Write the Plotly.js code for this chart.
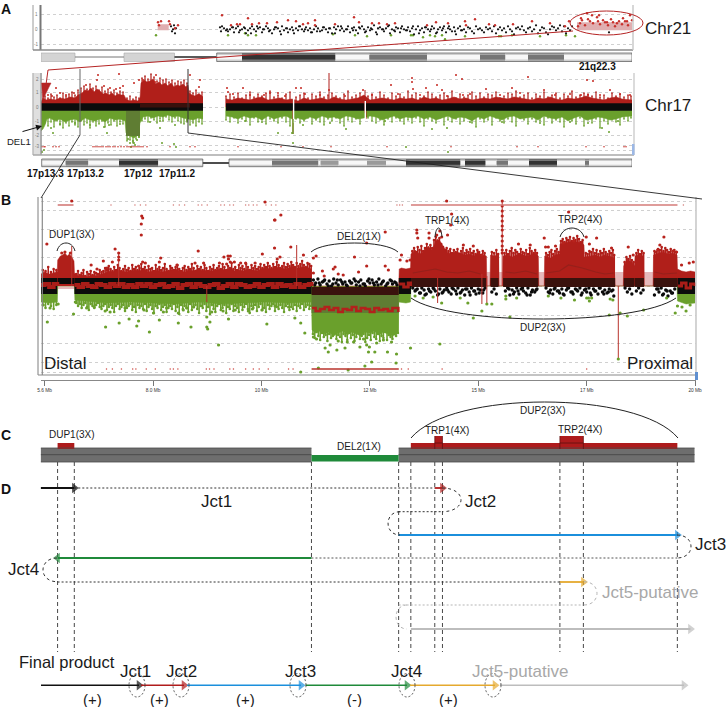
<!DOCTYPE html>
<html><head><meta charset="utf-8">
<script src="https://cdn.plot.ly/plotly-3.0.1.min.js"></script>
<style>html,body{margin:0;padding:0;background:#fff}#g{width:726px;height:707px}</style>
</head><body><div id="g"></div>
<script>
// ---------- Panel A, Chr21 (position along the ideogram, ratio offset) ----------
const chr21BlackX=[220,222,224,226,228,230,232,234,236,238,240,242,244,246,248,250,252,254,256,258,260,262,264,266,268,270,272,274,276,278,280,282,284,286,288,290,292,294,296,298,300,302,304,306,308,310,312,314,316,318,320,322,324,326,328,330,332,334,336,338,340,342,344,346,348,350,352,354,356,358,360,362,364,366,368,370,372,374,376,378,380,382,384,386,388,390,392,394,396,398,400,402,404,406,408,410,412,414,416,418,420,422,424,426,428,430,432,434,436,438,440,442,444,446,448,450,452,454,456,458,460,462,464,466,468,470,472,474,476,478,480,482,484,486,488,490,492,494,496,498,500,502,504,506,508,510,512,514,516,518,520,522,524,526,528,530,532,534,536,538,540,542,544,546,548,550,552,554,556,558,560,562,564,566,568,570,572,221,227,233,239,245,251,257,263,269,275,281,287,293,299,305,311,317,323,329,335,341,347,353,359,365,371,377,383,389,395,401,407,413,419,425,431,437,443,449,455,461,467,473,479,485,491,497,503,509,515,521,527,533,539,545,551,557,563,569];
const chr21BlackY=[2,3,1,-1,-2,0,2,-3,1,3,-1,0,2,-4,-1,1,3,0,-2,1,2,-3,0,3,1,-1,-4,0,2,1,-2,3,-1,1,-3,0,2,-4,1,-1,3,0,-2,2,-1,1,-3,0,3,1,-2,-1,2,0,-3,1,-4,2,0,3,-1,1,-2,0,3,-3,1,2,-1,-4,1,3,0,-2,2,-1,0,4,-3,1,2,0,-2,1,3,-4,0,-1,2,1,-3,3,0,-1,2,-2,1,-5,0,3,-1,1,-3,2,0,-2,3,1,-4,0,2,-1,3,-3,1,0,-2,2,-5,1,3,-1,0,-3,2,1,-2,-4,3,0,1,-1,-3,2,0,1,-2,3,-4,0,2,-1,1,-3,3,0,-2,-5,1,2,0,3,-1,-3,1,2,-2,0,4,-4,-1,2,1,-3,-5,0,3,2,-1,1,4,-2,3,-4,1,-1,3,-2,0,2,-3,1,-4,3,0,-2,2,-5,1,-1,3,0,-3,-2,2,1,-4,3,0,-1,2,-3,1,-5,0,4,-2,1,-1,3,-4,2,0,-3,1,3,-2,-1];
const chr21RedX=[222,248,231,237,240,252,259,267,277,288,296,303,308,315,315,335,354,359,372,379,387,395,427,436,448,465,466,475,489,495,513,532,550,569,565,587,592,582,588,597,603,607,611,617,623,630,632,627,585,593,600,608,615,622,628,580,578,590,598,605,613,619,625,581,599,158,161,169,170,175,178,159];
const chr21RedY=[14,11,4,5,5,5,6,6,7,9,8,5,6,9,4,5,12,7,6,6,5,6,4,7,6,8,4,10,5,4,5,8,6,8,3,16,14,9,10,12,9,7,10,6,11,14,9,8,4,6,5,4,3,5,4,6,3,8,8,7,7,8,8,11,14,7,8,8,5,1,4,4];
const chr21GreenX=[156,228,245,248,256,333,355,367,391,411,413,423,430,435,442,445,465,499,501,512,540,566,575];
const chr21GreenY=[-6,-6,-4,-6,-6,-5,-6,-7,-6,-6,-6,-8,-6,-7,-6,-10,-7,-7,-7,-6,-7,-6,-7];
const chr21ExtraBlackX=[171,173,174,172,176,175,609];
const chr21ExtraBlackY=[3,0,4,-2,1,-4,-3];
const chr21BandStart=[216.7,242,335.6,369.4,427,480,505.5,528,564];
const chr21BandEnd=[242,335.6,369.4,427,480,505.5,528,564,632];
const chr21BandStain=['w','d','w','g','w','g','w','g','w'];
const chr21Hatched=[[41,75],[124,174.5]];
// ---------- Panel A, Chr17 ----------
const chr17TopX=[41,43,46,50,55,60,65,70,75,78,82,85,88,91,94,97,100,103,106,109,112,115,118,121,124,126,130,134,138,140,141,144,147,150,153,156,159,162,165,168,171,174,177,180,183,186,188,189,192,195,198,201,203];
const chr17TopY=[5,9,7,8,7,9,8,10,9,12,14,17,16,19,15,18,16,13,14,12,14,11,13,12,12,8,6,7,6,9,24,27,25,26,28,23,25,22,24,21,24,20,22,21,23,20,22,14,12,11,13,12,10];
const chr17BotX=[41,43,45,47,50,55,60,65,70,75,80,85,90,95,100,105,110,115,120,125,126,130,134,138,140,143,148,153,158,163,168,173,178,183,188,193,198,203];
const chr17BotY=[-24,-22,-18,-12,-11,-14,-12,-15,-13,-12,-15,-11,-13,-14,-12,-15,-11,-13,-12,-14,-26,-29,-31,-28,-16,-10,-9,-11,-9,-10,-8,-10,-9,-11,-12,-13,-11,-12];
const chr17RightX=[226,232,238,244,250,256,262,268,274,280,286,292,298,304,310,316,322,328,334,340,346,352,358,364,370,376,382,388,394,400,406,412,418,424,430,436,442,448,454,460,466,472,478,484,490,496,502,508,514,520,526,532,538,544,550,556,562,568,574,580,586,592,598,604,610,616,622,632];
const chr17RightTop=[8,7,9,8,7,9,10,7,8,9,7,8,6,9,7,8,9,7,10,8,7,8,9,12,7,8,9,8,7,9,8,9,7,10,8,9,7,8,10,8,9,7,8,9,8,10,9,8,10,9,8,7,9,8,10,8,7,9,8,9,11,9,8,7,9,10,8,7];
const chr17RightBot=[-9,-10,-12,-9,-11,-10,-13,-9,-12,-10,-9,-12,-11,-13,-10,-12,-9,-11,-10,-12,-9,-10,-12,-11,-9,-10,-13,-11,-9,-12,-10,-11,-9,-12,-10,-13,-11,-9,-12,-10,-11,-14,-10,-12,-9,-11,-13,-10,-9,-12,-11,-10,-13,-9,-11,-12,-10,-14,-11,-9,-13,-12,-10,-11,-13,-12,-10,-9];
const chr17FringeX=[226,230,234,238,242,246,250,254,258,262,266,270,274,278,282,286,290,296,300,304,308,312,316,320,324,328,332,336,340,344,348,352,356,360,368,372,376,380,384,388,392,396,400,404,408,412,416,420,424,428,432,436,440,444,448,452,456,460,464,468,472,476,480,484,488,492,496,500,504,508,512,516,520,524,528,532,536,540,544,548,552,556,560,564,568,572,576,580,584,588,592,596,600,604,608,612,616,620,624,628,631];
const chr17FringeTop=[11,13,10,14,9,12,15,10,13,11,14,16,10,12,9,13,15,10,12,14,9,13,11,15,10,12,14,11,9,13,16,10,12,14,11,13,10,15,12,9,14,11,13,10,16,12,14,9,11,15,13,10,12,14,11,16,9,13,10,12,15,11,14,10,13,12,15,9,11,14,13,16,10,12,14,9,13,11,15,10,12,14,9,13,11,16,10,12,14,13,11,15,10,12,9,14,11,13,10,12,11];
const chr17FringeBot=[-13,-15,-11,-16,-12,-14,-18,-11,-15,-13,-17,-12,-14,-16,-11,-15,-19,-12,-16,-14,-11,-17,-13,-15,-18,-12,-14,-11,-16,-19,-13,-15,-12,-17,-11,-14,-16,-13,-18,-12,-15,-11,-14,-17,-13,-16,-11,-15,-19,-12,-14,-16,-11,-18,-13,-15,-12,-17,-14,-11,-16,-20,-12,-15,-13,-18,-11,-14,-16,-12,-15,-19,-11,-13,-17,-12,-15,-14,-18,-11,-16,-13,-15,-20,-12,-14,-17,-11,-19,-13,-16,-12,-21,-14,-17,-13,-15,-18,-12,-14,-11];
const chr17LeftFringeX=[45,48,51,54,57,60,63,66,69,72,75,78,81,84,87,90,93,96,99,102,105,108,111,114,117,120,123,127,130,133,136,139,142,145,148,151,154,157,160,163,166,169,172,175,178,181,184,187,190,193,196,199,202];
const chr17LeftFringeTop=[11,9,13,10,12,9,14,11,13,15,12,17,19,21,18,23,19,21,17,20,16,18,15,17,14,16,15,9,11,8,10,9,29,31,28,33,30,26,29,27,28,25,27,24,26,25,27,24,16,14,17,13,15];
const chr17LeftFringeBot=[-16,-19,-15,-20,-14,-18,-21,-16,-19,-15,-18,-20,-14,-18,-16,-21,-15,-19,-17,-14,-20,-16,-18,-14,-19,-15,-17,-34,-33,-36,-32,-30,-14,-12,-15,-11,-13,-16,-12,-14,-10,-13,-15,-11,-14,-16,-17,-15,-18,-16,-19,-15,-17];
const chr17RedX=[98,119,97,86,56,60,120,123,134,139,143,156,155,190,200,199,227,228,243,296,301,264,278,329,363,391,412,412,413,426,456,462,442,437,463,512,528,587,593,581,588,610,630,486,544,48,52,66,74,104,110,116,233,250,270,285,305,320,345,372,398,420,447,470,500,520,555,570,600,620];
const chr17RedY=[32,33,27,22,19,14,19,21,24,27,27,32,25,32,27,20,19,15,19,19,19,12,14,17,17,22,29,25,18,19,32,28,17,22,12,19,30,27,26,12,12,17,12,18,17,12,11,12,14,21,19,18,13,12,14,11,13,12,11,12,13,12,11,13,12,14,12,13,12,13];
const chr17GreenX=[51,53,104,107,109,160,174,160,162,176,187,278,293,303,292,346,432,447,602,609,588,502,406,448,42,44,128,130,133,135,137,139,131,134,60,75,90,120,150,175,245,262,330,385,470,540,570,618];
const chr17GreenY=[-21,-26,-20,-26,-18,-21,-37,-14,-36,-40,-13,-26,-36,-18,-26,-22,-22,-21,-21,-25,-16,-15,-40,-45,-45,-43,-32,-36,-34,-38,-33,-30,-40,-36,-17,-16,-18,-17,-15,-18,-14,-15,-16,-14,-15,-16,-15,-14];
const chr17RugX=[42,44,45,53,56,59,93,95,97,99,101,103,106,108,110,113,115,118,121,124,127,129,131,133,135,137,139,141,143,147,170,190,195,238,281,303,331,387,451,517,538,586,604,624,626];
const chr17BandStart=[41.7,65.7,88.4,119,158.3,229,272,318.5,320.7,338.7,367,386,406,460.6,465,485.7,496.7,508,529,557,585,589];
const chr17BandEnd=[65.7,88.4,119,158.3,202.8,272,318.5,320.7,338.7,367,386,406,460.6,465,485.7,496.7,508,529,557,585,589,632];
const chr17BandStain=['w','g','w','d','w','w','g','w','l','w','l','w','d','w','d','w','g','w','d','w','g','w'];
// ---------- Panel B ----------
const bTickVals=[5.6,8,10.4,12.8,15.2,17.6,20];
const bTickText=['5.6 Mb','8.0 Mb','10 Mb','12 Mb','15 Mb','17 Mb','20 Mb'];
const bGrid=[85,76,57,29,0,-29,-57,-76,-86];
const bRedX=[5.52,5.6,5.7,5.8,5.88,5.89,5.95,6,6.05,6.1,6.15,6.2,6.25,6.26,6.35,6.45,6.55,6.65,6.75,6.85,6.95,7,7.1,7.2,7.3,7.4,7.5,7.6,7.7,7.8,7.9,8,8.1,8.2,8.3,8.4,8.5,8.6,8.7,8.8,8.9,9,9.1,9.2,9.3,9.4,9.5,9.6,9.7,9.8,9.9,10,10.1,10.2,10.3,10.4,10.5,10.6,10.7,10.8,10.9,11,11.1,11.2,11.3,11.4,11.5,11.51,13.44,13.45,13.5,13.6,13.7,13.71,13.75,13.8,13.85,13.9,13.95,14,14.05,14.1,14.15,14.2,14.25,14.3,14.35,14.4,14.45,14.5,14.55,14.6,14.7,14.8,14.9,15,15.1,15.2,15.3,15.38,15.39,15.46,15.47,15.55,15.65,15.66,15.74,15.75,15.85,15.95,16.05,16.15,16.25,16.35,16.45,16.53,16.54,16.66,16.67,16.8,16.9,17,17.01,17.1,17.2,17.3,17.4,17.5,17.54,17.55,17.7,17.8,17.9,18,18.1,18.2,18.23,18.41,18.42,18.5,18.6,18.66,18.67,18.75,18.85,18.87,19.07,19.08,19.2,19.3,19.4,19.5,19.6,19.61,19.7,19.8,19.9,20];
const bRedTop=[12,14,12,13,14,26,30,31,33,30,32,29,25,13,10,11,9,11,10,12,13,15,14,16,15,14,15,16,15,17,14,15,16,14,15,16,17,15,14,16,15,17,15,16,15,16,17,16,18,15,16,15,17,16,15,17,18,17,18,19,17,18,20,18,19,19,17,0,0,17,18,17,18,32,33,36,34,32,33,35,37,40,36,38,44,47,45,42,38,34,33,32,34,33,31,32,30,33,31,30,0,0,31,30,31,0,0,30,31,29,31,32,30,31,33,30,0,0,30,28,31,32,42,43,44,45,44,43,41,29,30,31,29,31,30,28,0,0,20,26,24,20,30,31,30,0,0,31,33,34,32,33,31,17,15,14,15,14];
const bGreenX=[5.52,5.7,5.88,5.89,6.26,6.27,6.5,7,7.5,8,8.5,9,9.5,10,10.5,11,11.51,11.52,11.6,11.7,11.8,11.9,12,12.1,12.2,12.3,12.4,12.5,12.6,12.7,12.8,12.9,13,13.1,13.2,13.3,13.43,13.44,13.6,13.7,13.71,19.6,19.61,19.8,20];
const bGreenBot=[-16,-17,-16,0,0,-14,-15,-17,-16,-17,-18,-16,-18,-17,-16,-17,-16,-44,-47,-45,-48,-46,-50,-47,-45,-49,-46,-48,-50,-46,-47,-45,-49,-46,-48,-50,-47,-16,-17,-16,0,0,-15,-18,-17];
const bFringeX=[5.56,5.62,5.68,5.74,5.8,5.86,6.3,6.34,6.38,6.42,6.46,6.5,6.54,6.58,6.62,6.66,6.7,6.74,6.78,6.82,6.86,6.9,6.94,6.98,7.02,7.06,7.1,7.14,7.18,7.22,7.26,7.3,7.34,7.38,7.42,7.46,7.5,7.54,7.58,7.62,7.66,7.7,7.74,7.78,7.82,7.86,7.9,7.94,7.98,8.02,8.06,8.1,8.14,8.18,8.22,8.26,8.3,8.34,8.38,8.42,8.46,8.5,8.54,8.58,8.62,8.66,8.7,8.74,8.78,8.82,8.86,8.9,8.94,8.98,9.02,9.06,9.1,9.14,9.18,9.22,9.26,9.3,9.34,9.38,9.42,9.46,9.5,9.54,9.58,9.62,9.66,9.7,9.74,9.78,9.82,9.86,9.9,9.94,9.98,10.02,10.06,10.1,10.14,10.18,10.22,10.26,10.3,10.34,10.38,10.42,10.46,10.5,10.54,10.58,10.62,10.66,10.7,10.74,10.78,10.82,10.86,10.9,10.94,10.98,11.02,11.06,11.1,11.14,11.18,11.22,11.26,11.3,11.34,11.38,11.42,11.46,11.5];
const bFringeTop=[16,15,19,14,17,16,12,15,11,13,16,10,14,12,15,11,14,13,12,16,14,15,18,16,20,17,15,19,16,21,18,15,17,20,16,18,15,21,17,19,16,18,22,17,19,16,20,17,18,15,21,17,19,16,18,22,17,15,20,18,16,19,21,17,15,18,20,16,19,17,22,18,15,20,17,19,16,21,18,15,19,17,21,16,18,20,17,22,19,16,20,18,23,17,19,16,21,18,20,17,22,19,16,21,18,20,17,19,22,18,21,19,23,20,18,22,19,24,21,18,20,23,19,22,20,24,21,19,23,20,22,25,21,19,23,22,20,18,21,19,17];
const bFringeBot=[-19,-22,-18,-20,-23,-19,-17,-20,-18,-22,-19,-17,-21,-24,-18,-20,-22,-19,-17,-21,-23,-20,-18,-24,-21,-19,-22,-26,-20,-18,-23,-21,-19,-25,-22,-20,-18,-24,-21,-26,-19,-22,-20,-23,-18,-25,-21,-19,-23,-27,-20,-22,-18,-24,-21,-19,-26,-22,-20,-23,-18,-25,-21,-28,-19,-23,-20,-22,-26,-18,-24,-21,-19,-23,-27,-20,-22,-18,-25,-21,-28,-19,-23,-26,-20,-18,-24,-22,-19,-27,-21,-23,-18,-25,-20,-22,-26,-19,-24,-21,-18,-23,-27,-20,-22,-19,-25,-21,-18,-24,-22,-26,-19,-23,-20,-18,-25,-21,-23,-19,-22,-26,-20,-18,-24,-21,-23,-19,-25,-20,-22,-18,-24,-21,-19,-23,-20,-22,-25,-19,-21];
const bDelFringeX=[11.54,11.58,11.62,11.66,11.7,11.74,11.78,11.82,11.86,11.9,11.94,11.98,12.02,12.06,12.1,12.14,12.18,12.22,12.26,12.3,12.34,12.38,12.42,12.46,12.5,12.54,12.58,12.62,12.66,12.7,12.74,12.78,12.82,12.86,12.9,12.94,12.98,13.02,13.06,13.1,13.14,13.18,13.22,13.26,13.3,13.34,13.38,13.42];
const bDelFringeBot=[-48,-52,-46,-50,-54,-47,-51,-49,-55,-48,-52,-50,-46,-53,-49,-51,-56,-48,-50,-54,-47,-52,-49,-55,-51,-47,-53,-50,-48,-56,-52,-49,-54,-47,-51,-53,-48,-55,-50,-52,-46,-54,-49,-51,-53,-48,-50,-47];
const bDupFringeX=[13.74,13.78,13.82,13.86,13.9,13.94,13.98,14.02,14.06,14.1,14.14,14.18,14.22,14.26,14.3,14.34,14.38,14.42,14.46,14.5,14.54,14.58,14.62,14.66,14.7,14.74,14.78,14.82,14.86,14.9,14.94,14.98,15.02,15.06,15.1,15.14,15.18,15.22,15.26,15.3,15.34,15.5,15.55,15.6,15.64,15.78,15.82,15.86,15.9,15.94,15.98,16.02,16.06,16.1,16.14,16.18,16.22,16.26,16.3,16.34,16.38,16.42,16.46,16.5,16.7,16.74,16.78,16.82,16.86,16.9,16.94,16.98,17.03,17.07,17.11,17.15,17.19,17.23,17.27,17.31,17.35,17.39,17.43,17.47,17.51,17.58,17.62,17.66,17.7,17.74,17.78,17.82,17.86,17.9,17.94,17.98,18.02,18.06,18.1,18.14,18.18,18.21,18.44,18.48,18.52,18.56,18.6,18.64,18.7,18.74,18.78,18.82,18.86,19.1,19.14,19.18,19.22,19.26,19.3,19.34,19.38,19.42,19.46,19.5,19.54,19.58];
const bDupFringeTop=[35,38,34,39,36,40,35,38,42,37,41,38,46,49,44,48,42,39,36,38,35,37,33,36,34,37,32,35,38,33,36,34,37,33,35,32,36,34,31,35,33,34,33,36,32,33,36,32,35,38,33,36,34,32,37,34,33,36,32,38,35,33,36,33,33,31,34,36,32,35,37,34,45,47,44,48,46,49,45,48,46,50,47,44,46,33,32,35,34,37,33,36,32,35,33,37,34,32,35,33,36,31,24,29,27,30,26,24,33,36,32,35,33,35,34,37,36,39,35,38,36,34,37,35,36,34];
const bBlackStart=[5.52,6.26,13.44,19.61];
const bBlackEnd=[5.88,11.51,13.71,20];
const bBlackTop=[8,8,8,8];
const bBlackBot=[-8,-8,-8,-8];
const bDup1Start=[5.89],bDup1End=[6.26],bDup1Top=[8],bDup1Bot=[2];
const bBrownStart=[11.51,13.71,15.47,15.75,16.67,18.42,18.67,19.08];
const bBrownEnd=[13.44,15.38,15.65,16.53,18.23,18.66,18.87,19.6];
const bBrownTop=[-1,8,8,8,8,8,8,8];
const bBrownBot=[-9,-1,-1,-1,-1,-1,-1,-1];
const bOliveStart=[11.51],bOliveEnd=[13.44],bOliveTop=[-9],bOliveBot=[-27];
const bPinkStart=[5.89,15.38,15.65,16.53,18.23,18.87],bPinkEnd=[6.26,15.47,15.75,16.67,18.42,19.07],bPinkTop=[2,14,14,14,14,14],bPinkBot=[-3,0,0,0,0,0];
const bEdgeBlackX=[11.55,11.6,11.65,11.7,11.75,11.8,11.85,11.9,11.95,12,12.05,12.1,12.15,12.2,12.25,12.3,12.35,12.4,12.45,12.5,12.55,12.6,12.65,12.7,12.75,12.8,12.85,12.9,12.95,13,13.05,13.1,13.15,13.2,13.25,13.3,13.35,13.4,11.58,11.68,11.78,11.88,11.98,12.08,12.18,12.28,12.38,12.48,12.58,12.68,12.78,12.88,12.98,13.08,13.18,13.28,13.38,13.75,13.8,13.85,13.9,13.95,14,14.05,14.1,14.15,14.2,14.25,14.3,14.35,14.4,14.45,14.5,14.55,14.6,14.65,14.7,14.75,14.8,14.85,14.9,14.95,15,15.05,15.1,15.15,15.2,15.25,15.3,15.35,15.5,15.55,15.6,15.8,15.85,15.9,15.95,16,16.05,16.1,16.15,16.2,16.25,16.3,16.35,16.4,16.45,16.5,16.7,16.75,16.8,16.85,16.9,16.95,17,17.05,17.1,17.15,17.2,17.25,17.3,17.35,17.4,17.45,17.5,17.55,17.6,17.65,17.7,17.75,17.8,17.85,17.9,17.95,18,18.05,18.1,18.15,18.2,18.45,18.5,18.55,18.6,18.7,18.75,18.8,18.85,19.1,19.15,19.2,19.25,19.3,19.35,19.4,19.45,19.5,19.55,13.82,13.92,14.02,14.12,14.22,14.32,14.42,14.52,14.62,14.72,14.82,14.92,15.02,15.12,15.22,15.32,15.88,15.98,16.08,16.18,16.28,16.38,16.48,16.78,16.88,16.98,17.08,17.18,17.28,17.38,17.48,17.58,17.68,17.78,17.88,17.98,18.08,18.18,19.18,19.28,19.38,19.48];
const bEdgeBlackY=[6,3,7,1,4,6,2,5,0,7,3,1,6,2,4,0,5,3,7,1,4,6,2,0,5,3,6,1,4,7,2,5,0,3,6,2,4,1,1,3,5,0,2,6,4,1,3,5,0,2,7,3,1,4,2,5,3,-2,-5,-3,-7,-2,-4,-8,-3,-6,-2,-5,-9,-3,-7,-4,-2,-6,-8,-3,-5,-2,-7,-4,-9,-3,-6,-2,-5,-8,-3,-4,-7,-2,-6,-3,-8,-5,-2,-9,-4,-6,-2,-8,-3,-5,-7,-2,-9,-4,-6,-3,-2,-6,-4,-8,-2,-5,-7,-3,-9,-4,-2,-6,-8,-3,-5,-2,-7,-4,-6,-2,-9,-3,-5,-8,-2,-6,-4,-7,-3,-5,-10,-2,-6,-3,-8,-5,-2,-7,-4,-9,-3,-6,-2,-8,-4,-10,-5,-7,-3,-4,-7,-9,-5,-3,-8,-6,-4,-2,-8,-6,-3,-9,-5,-7,-4,-3,-8,-5,-2,-9,-6,-4,-7,-3,-5,-8,-2,-6,-4,-9,-3,-7,-5,-2,-8,-6,-4,-3,-9,-5,-7,-3,-6,-4];
const bCenterX=[5.52,5.6,5.7,5.8,5.88,null,6.26,6.35,6.45,6.55,6.65,6.75,6.85,6.95,7.05,7.15,7.25,7.35,7.45,7.55,7.65,7.75,7.85,7.95,8.05,8.15,8.25,8.35,8.45,8.55,8.65,8.75,8.85,8.95,9.05,9.15,9.25,9.35,9.45,9.55,9.65,9.75,9.85,9.95,10.05,10.15,10.25,10.35,10.45,10.55,10.65,10.75,10.85,10.95,11.05,11.15,11.25,11.35,11.45,11.51];
const bCenterY=[1,2,-1,2,0,null,1,-1,2,0,-1,2,1,-1,2,0,2,-1,1,-1,2,0,2,-1,1,2,-1,0,2,-2,1,2,-1,2,0,-1,1,2,-2,0,2,-1,2,1,-1,0,2,-1,1,2,-1,2,0,1,-1,2,-1,1,2,0];
const bDelX=[11.52,11.6,11.7,11.8,11.9,12,12.1,12.2,12.3,12.4,12.5,12.6,12.7,12.8,12.9,13,13.1,13.2,13.3,13.43];
const bDelY=[-22,-25,-23,-21,-24,-22,-26,-23,-24,-21,-25,-22,-23,-26,-22,-24,-23,-25,-22,-26];
const bRightX=[13.45,13.55,13.65,13.7,null,19.62,19.7,19.8,19.9,20];
const bRightY=[2,-1,3,0,null,0,3,-2,2,0];
const bDupLineX=[13.75,14,14.25,14.5,14.75,15,15.25,null,15.8,16,16.25,16.5,null,16.7,17,17.2,17.5,17.8,18,18.2,null,18.7,null,19.1,19.3,19.6];
const bDupLineY=[13,15,17,14,13,15,12,null,14,13,15,12,null,13,15,21,18,14,12,13,null,14,null,14,12,13];
const bSpikeX=[6.2,7.24,9.19,11.18,14.3,15.28,15.39,15.73,18.3];
const bSpikeHigh=[40,33,0,41,8,12,10,85,0];
const bSpikeLow=[0,0,-16,0,-17,-18,-18,0,-73];
const bRedDotX=[6.2,5.65,7.75,7.77,7.74,7.74,7.16,7.24,7.24,7.24,6.9,7.1,6.98,6.63,6.76,8.17,8.14,7.77,7.83,7.68,9,8.93,8.53,9.12,9.57,9.66,9.71,9.67,9.71,9.63,9.8,9.47,10.42,10.69,10.69,10.48,9.94,10.05,10.26,6.05,5.98,6.17,10.83,10.7,11.05,10.81,10.75,11.33,11.61,11.55,12.46,12.73,13.14,12.03,11.99,12.21,12.1,11.75,11.55,12.55,12.73,13.14,13.21,11.79,13.5,13.47,13.62,13.69,13.84,13.84,13.86,14.11,14.11,14.28,14.35,14.61,14.5,14.59,14.39,14.52,14.87,15.09,15.28,15.73,15.73,15.73,15.73,15.73,15.73,15.73,15.73,15.73,15.73,15.73,15.73,16.09,16.35,16.47,16.66,16.69,16.75,16.91,17.2,17.31,17.08,17.59,17.82,17.66,18.15,18.52,18.63,19.22,19.31,19.17,19.52,19.59,19.96,19.87,19.7];
const bRedDotY=[85,42,70,68,62,51,37,33,29,26,25,24,18,21,17,28,24,24,23,20,35,23,21,23,29,30,30,27,24,22,24,23,32,38,66,84,23,23,23,34,33,33,71,66,39,29,27,31,30,28,29,43,54,19,17,11,12,15,13,14,20,20,16,10,31,26,25,26,56,53,48,53,48,51,55,72,85,61,49,51,41,40,31,85,80,75,70,65,60,56,50,45,40,36,33,42,41,33,48,39,39,40,74,45,43,49,48,42,38,39,31,41,49,36,35,34,24,23,21];
const bGreenDotX=[5.66,6.95,7.25,7.47,7.68,7.64,7.92,9.45,8.84,8.56,9.19,9.21,9.26,8.14,6.24,10.52,9.67,5.57,5.72,5.9,6.28,6.53,6.94,7.05,7.38,8.01,8.23,8.56,8.67,9.19,9.3,9.82,10.11,10.41,11.55,11.62,11.92,11.81,11.88,12.1,12.3,12.66,12.73,12.77,12.79,12.91,12.84,12.69,13.19,13.39,13.38,12.32,11.66,11.27,11.36,11.27,11.14,13.7,14.35,12.25,12.44,13.1,13.28,12.95,12.07,12.58,14.2,13.8,13.98,14.39,14.8,14.97,15.28,15.09,15.39,15.5,15.9,15.81,15.81,16.05,16.75,17.03,17.33,17.64,17.71,17.6,17.66,18.12,18.18,18.1,18.34,18.5,18.86,18.3,19.37,19.56,19.61,19.8,19.71,19.89,8.3,8.9,10.7,11,6.7,7.8,8.75,9.55,10.2];
const bGreenDotY=[-36,-41,-37,-33,-35,-40,-46,-59,-41,-37,-41,-43,-36,-34,-28,-38,-33,-19,-22,-18,-16,-22,-25,-26,-22,-27,-26,-27,-24,-31,-26,-24,-25,-24,-51,-53,-59,-62,-66,-55,-56,-53,-59,-66,-61,-66,-76,-80,-66,-68,-77,-84,-82,-86,-47,-37,-32,-62,-58,-62,-56,-54,-56,-57,-64,-61,-11,-10,-12,-17,-12,-17,-25,-32,-18,-18,-31,-10,-13,-12,-10,-12,-14,-12,-12,-12,-15,-13,-14,-29,-27,-30,-24,-73,-12,-27,-20,-25,-21,-19,-22,-21,-20,-21,-21,-24,-22,-25,-23];
const bTopRugStart=[5.89,13.71],bTopRugEnd=[6.24,19.61];
const bTopRugDots=[7.07,7.6,7.72,7.84,8.45,8.58,8.7,9,9.08,9.2,9.5,9.58,9.7,9.78,10.05,10.12,10.22,10.3,10.5,10.62,10.72,13.4,13.46,13.52,19.74];
const bBottomRugDots=[6.97,7.1,7.3,7.55,7.62,7.85,8.05,8.38,8.45,8.55,9.18,9.25,9.35,9.7,9.78,10.05,10.22,10.35,10.55,11,11.1,13.5,13.65,14.4,17.6];
const bBottomRugStart=[11.51],bBottomRugEnd=[13.44];
// ---------- Panels C and D (Mb along the same scale as B) ----------
const breakpoints=[5.89,6.26,11.51,13.44,13.71,14.24,14.41,17.01,17.53,19.61];
const refStart=[5.52,13.44],refEnd=[11.51,19.99];
const delStart=11.51,delEnd=13.44;
const gainStart=[5.89,13.71],gainEnd=[6.26,19.61];
const triStart=[14.24,17.01],triEnd=[14.41,17.53];
const segStart=[5.52,14.24,13.44,11.51,17.01,13.71];
const segEnd=[6.26,14.41,19.61,5.89,17.53,19.9];
const segRow=[488,488,535,558,582,629];
const segColor=['#111111','#b01c1c','#1b8fdc','#1f8a3a','#e5a92e','#bdbdbd'];
const linkStart=[6.26,13.44,11.51,5.89,13.44];
const linkEnd=[14.24,14.41,19.61,17.01,17.53];
const linkRow=[488,511.7,558,582,605];
const linkColor=['#333333','#333333','#555555','#333333','#b5b5b5'];
// Final product (length along the rearranged chromosome)
const productStart=[41,141,187,305.6,410,500];
const productEnd=[139,184,301,407,495,684];
const productColor=['#111111','#b01c1c','#1b8fdc','#1f8a3a','#e5a92e','#bdbdbd'];
const junctionAt=[137,181,298,407,493];
const junctionLabel=['Jct1','Jct2','Jct3','Jct4','Jct5-putative'];
const strandAt=[92,159,245,354,448];
const strandLabel=['(+)','(+)','(+)','(-)','(+)'];

const RED='#b01f1a',GREEN='#6aa02c',GRID='#c4c4c4';
const F='"Liberation Sans",Arial,sans-serif';
const px=v=>v/726, py=v=>1-v/707;
const traces=[],shapes=[],annotations=[];
function dots(x,y,color,size,xa,ya){traces.push({type:'scatter',mode:'markers',x,y,xaxis:xa,yaxis:ya,cliponaxis:false,hoverinfo:'skip',marker:{color,size,line:{width:0}}});}
function area(x,y,color,xa,ya){traces.push({type:'scatter',mode:'lines',x,y,xaxis:xa,yaxis:ya,fill:'tozeroy',fillcolor:color,hoverinfo:'skip',line:{color,width:0.5}});}
function line(x,y,color,width,xa,ya,dash,shape){traces.push({type:'scatter',mode:'lines',x,y,xaxis:xa,yaxis:ya,cliponaxis:false,hoverinfo:'skip',line:{color,width,dash:dash||'solid',shape:shape||'linear'}});}
function hairs(xs,ys,color,width,xa,ya){const x=[],y=[];xs.forEach((v,i)=>{x.push(v,v,null);y.push(0,ys[i],null)});line(x,y,color,width,xa,ya);}
function bands(st,en,top,bot,color,xa,ya){const x=[],y=[];st.forEach((s,i)=>{x.push(s,en[i],en[i],s,s,null);y.push(bot[i],bot[i],top[i],top[i],bot[i],null)});traces.push({type:'scatter',mode:'lines',x,y,xaxis:xa,yaxis:ya,fill:'toself',fillcolor:color,hoverinfo:'skip',line:{width:0,color}});}
function segs(st,en,yv,color,width,xa,ya,dash){const x=[],y=[];st.forEach((s,i)=>{x.push(s,en[i],null);y.push(yv[i],yv[i],null)});line(x,y,color,width,xa,ya,dash);}
function rect(x0,x1,y0,y1,fill,xref,lineColor,w){shapes.push({type:'rect',layer:'above',xref:xref||'x5',yref:'y5',x0,x1,y0,y1,fillcolor:fill,line:{color:lineColor||fill,width:w===undefined?0:w}});}
function seg(x0,y0,x1,y1,color,width,dash,xref){shapes.push({type:'line',layer:'above',xref:xref||'x5',yref:'y5',x0,y0,x1,y1,line:{color,width,dash:dash||'solid'}});}
function path(d,color,width,dash,fill){shapes.push({type:'path',layer:'above',xref:'x5',yref:'y5',path:d,fillcolor:fill||'rgba(0,0,0,0)',line:{color,width,dash:dash||'solid'}});}
function arc(x0,x1,yb,peak,color,w){path(`M${x0},${yb} C${x0+(x1-x0)*0.15},${yb+(peak-yb)*4/3} ${x1-(x1-x0)*0.15},${yb+(peak-yb)*4/3} ${x1},${yb}`,color||'#222',w||1);}
function loop(x,y0,y1,bulge,color){path(`M${x},${y0} C${x+bulge*4/3},${y0} ${x+bulge*4/3},${y1} ${x},${y1}`,color||'#333',1,'dot');}
function label(text,x,y,size,opts){annotations.push(Object.assign({text,x,y,xref:'x5',yref:'y5',showarrow:false,xanchor:'center',yanchor:'middle',font:{family:F,size,color:'#1a1a1a'}},opts||{}));}
function greyLabel(text,x,y,size){annotations.push({text,x,y,xref:'x5',yref:'y5',showarrow:false,xanchor:'center',yanchor:'middle',font:{family:F,size,color:'#a8a8a8'}});}
const STAIN={w:['#cfcfcf','#f7f7f7'],g:['#a6a6a6','#767676'],l:['#bdbdbd','#9a9a9a'],d:['#777777','#333333']};
function ideogram(st,en,stain,xa,top,bot){st.forEach((s,i)=>{const c=STAIN[stain[i]];rect(s,en[i],top,bot,c[0],xa);rect(s,en[i],top+2,bot-2,c[1],xa);});}

// ---- Chr21 ----
bands([157.7,577],[168.7,632],[5,7],[-1,-1],'#e0aeb0','x','y');
dots(chr21GreenX,chr21GreenY,GREEN,2.4,'x','y');
dots(chr21BlackX,chr21BlackY,'#111',2.2,'x','y');
dots(chr21ExtraBlackX,chr21ExtraBlackY,'#111',2.2,'x','y');
dots(chr21RedX,chr21RedY,'#c8302c',2.4,'x','y');
// ---- Chr17 ----
hairs(chr17FringeX,chr17FringeTop,RED,1.2,'x2','y2');
hairs(chr17LeftFringeX,chr17LeftFringeTop,RED,1.2,'x2','y2');
hairs(chr17FringeX,chr17FringeBot,GREEN,1.2,'x2','y2');
hairs(chr17LeftFringeX,chr17LeftFringeBot,GREEN,1.2,'x2','y2');
dots(chr17FringeX,chr17FringeTop,RED,1.6,'x2','y2');
dots(chr17LeftFringeX,chr17LeftFringeTop,RED,1.6,'x2','y2');
dots(chr17FringeX,chr17FringeBot,GREEN,1.6,'x2','y2');
dots(chr17LeftFringeX,chr17LeftFringeBot,GREEN,1.6,'x2','y2');
area(chr17TopX,chr17TopY,RED,'x2','y2');
area(chr17RightX,chr17RightTop,RED,'x2','y2');
area(chr17BotX,chr17BotY,GREEN,'x2','y2');
area(chr17RightX,chr17RightBot,GREEN,'x2','y2');
bands([126],[140],[-4],[-29],'#5f7d33','x2','y2');
bands([41,140,226],[203,190,632],[3.7,3.7,3.7],[-3.7,-3.7,-3.7],'#0c0c0c','x2','y2');
bands([140],[190],[3.7],[-0.5],'#3a100c','x2','y2');
line([293,293,null,365,365,null,329,329,null,366,366],[-27,-3,null,-6,17,null,5,34,null,-4,-12],RED,1,'x2','y2');
line([293.6,293.6,null,365.3,365.3],[12,-16,null,6,-14],'#ffffff',1.4,'x2','y2');
line([293,293],[-27,-12],GREEN,1.4,'x2','y2');
dots(chr17RedX,chr17RedY,'#c4261f',2,'x2','y2');
dots(chr17GreenX,chr17GreenY,GREEN,2,'x2','y2');
dots(chr17RugX,chr17RugX.map(()=>-39.7),'#c4261f',1.5,'x2','y2');
// ---- Panel B ----
bands(bPinkStart,bPinkEnd,bPinkTop,bPinkBot,'#e6b9bb','x3','y3');
hairs(bFringeX,bFringeBot,GREEN,1.6,'x3','y3');
hairs(bDelFringeX,bDelFringeBot,GREEN,1.6,'x3','y3');
hairs(bFringeX,bFringeTop,RED,1.6,'x3','y3');
hairs(bDupFringeX,bDupFringeTop,RED,1.6,'x3','y3');
dots(bFringeX,bFringeBot,GREEN,2.6,'x3','y3');
dots(bDelFringeX,bDelFringeBot,GREEN,2.6,'x3','y3');
dots(bFringeX,bFringeTop,RED,2.6,'x3','y3');
dots(bDupFringeX,bDupFringeTop,RED,2.6,'x3','y3');
area(bGreenX,bGreenBot,GREEN,'x3','y3');
area(bRedX,bRedTop,RED,'x3','y3');
bands(bOliveStart,bOliveEnd,bOliveTop,bOliveBot,'#5f7d33','x3','y3');
bands(bBlackStart,bBlackEnd,bBlackTop,bBlackBot,'#0b0b0b','x3','y3');
bands(bDup1Start,bDup1End,bDup1Top,bDup1Bot,'#0b0b0b','x3','y3');
dots(bEdgeBlackX,bEdgeBlackY,'#0b0b0b',3.4,'x3','y3');
bands(bBrownStart,bBrownEnd,bBrownTop,bBrownBot,'#3a120d','x3','y3');
line(bCenterX,bCenterY,'#a81d18',4,'x3','y3',null,'hv');
line(bDelX,bDelY,'#b3211c',2.6,'x3','y3',null,'hv');
line(bRightX,bRightY,'#a81d18',3,'x3','y3',null,'hv');
line(bDupLineX,bDupLineY,'#96201b',1.2,'x3','y3');
{const x=[],y=[];bSpikeX.forEach((v,i)=>{x.push(v,v,null);y.push(bSpikeLow[i],bSpikeHigh[i],null)});line(x,y,'#b8322c',1,'x3','y3');}
dots(bGreenDotX,bGreenDotY,GREEN,3.2,'x3','y3');
dots(bRedDotX,bRedDotY,'#b8231d',3.2,'x3','y3');
segs(bTopRugStart,bTopRugEnd,[81,81],'#d47b78',1.6,'x3','y3');
segs(bBottomRugStart,bBottomRugEnd,[-83,-83],'#b8332d',1.4,'x3','y3');
dots(bTopRugDots,bTopRugDots.map(()=>81),'#d47b78',1.5,'x3','y3');
dots(bBottomRugDots,bBottomRugDots.map(()=>-83),'#cf4a44',1.5,'x3','y3');
// ---- Panel C ----
const barTop=448,barMid=454.7,barBottom=462;
{const x=[],y=[];breakpoints.forEach(v=>{x.push(v,v,null);y.push(barBottom,652,null)});line(x,y,'#333',0.9,'x4','y4','4px,3px');}
bands(refStart,refEnd,[barBottom,barBottom],[barTop,barTop],'#6e6e6e','x4','y4');
bands([delStart],[delEnd],[461.5],[455],'#1f8a3a','x4','y4');
bands(gainStart,gainEnd,[449,449],[443,443],'#ae1b1c','x4','y4');
bands(triStart,triEnd,[443,443],[436,436],'#ae1b1c','x4','y4');
segs(refStart,refEnd,[barMid,barMid],'#4a4a4a',1,'x4','y4');
segs(refStart,refEnd,[barTop,barTop],'#4a4a4a',0.8,'x4','y4');
segs(refStart,refEnd,[barBottom,barBottom],'#4a4a4a',0.8,'x4','y4');
segs(triStart,triEnd,[443,443],'#5a1010',0.8,'x4','y4');
{const x=[],y=[];triStart.concat(triEnd).forEach(v=>{x.push(v,v,null);y.push(436,449,null)});line(x,y,'#5a1010',0.7,'x4','y4');}
// ---- Panel D ----
linkStart.forEach((s,i)=>line([s,linkEnd[i]],[linkRow[i],linkRow[i]],linkColor[i],1,'x4','y4','2px,2px'));
segStart.forEach((s,i)=>{
  traces.push({type:'scatter',mode:'lines+markers',x:[s,segEnd[i]],y:[segRow[i],segRow[i]],xaxis:'x4',yaxis:'y4',cliponaxis:false,hoverinfo:'skip',
    line:{color:segColor[i],width:1.8},marker:{color:segColor[i],size:[0,9],symbol:segEnd[i]>s?'triangle-right':'triangle-left',line:{width:0}}});
});
productStart.forEach((s,i)=>{
  traces.push({type:'scatter',mode:'lines+markers',x:[s,productEnd[i]],y:[685.3,685.3],xaxis:'x5',yaxis:'y5',cliponaxis:false,hoverinfo:'skip',
    line:{color:productColor[i],width:1.6},marker:{color:productColor[i],size:[0,9],symbol:'triangle-right',line:{width:0}}});
});
// junction loops
loop(442,488,511.7,19);loop(400,511.7,535,-12);loop(677,535,558,14);loop(57,558,581.7,-14);
loop(584,581.7,605,13,'#b5b5b5');loop(407,605,629,-11,'#b5b5b5');
junctionAt.forEach(x=>{shapes.push({type:'circle',layer:'above',xref:'x5',yref:'y5',x0:x-8,x1:x+8,y0:673.5,y1:697,line:{color:'#333',width:0.8,dash:'2px,2px'}})});
// ---- frames ----
const lg='#9a9a9a';
seg(33,5,33,50,lg,1);seg(40.5,5,40.5,50,'#777',2);seg(33,50,633,50,'#8a8a8a',1.4);seg(633,5,633,50,'#c6c6c6',1.4);
rect(33.5,40,73,155,'#dfdfdf');seg(33,73,33,155,lg,1);seg(41,73,41,155,'#8a8a8a',1.4);seg(33,155,634,155,'#a8a8a8',1.6);seg(634,73,634,155,'#d2d2d2',1.6);
rect(632,634.5,144,155,'#9cb8e6');
seg(38,197,38,375,'#7f7f7f',1);seg(42.3,197,42.3,375,'#8a8a8a',1.2);seg(38,375,696,375,'#8a8a8a',1.2);seg(696,197,696,375,'#c9c9c9',1.6);
rect(695,698,372,380,'#5f8fd0');
// ---- Ideograms ----
const xa1='x',xa2='x2';
chr21Hatched.forEach(h=>{rect(h[0],h[1],53,61.5,'#d4d4d4',xa1,'#aaaaaa',0.6);});
seg(75,57,124,57,'#777',1,'solid',xa1);seg(174.5,57,216.7,57,'#222',1.6,'solid',xa1);
ideogram(chr21BandStart,chr21BandEnd,chr21BandStain,xa1,53,61.5);
shapes.push({type:'rect',layer:'above',xref:xa1,yref:'y5',x0:216.7,x1:632,y0:53,y1:61.5,line:{color:'#555',width:0.7},fillcolor:'rgba(0,0,0,0)'});
ideogram(chr17BandStart,chr17BandEnd,chr17BandStain,xa2,159,166.7);
seg(202.8,163,229,163,'#222',1.6,'solid',xa2);
[[41.7,202.8],[229,632]].forEach(r=>shapes.push({type:'rect',layer:'above',xref:xa2,yref:'y5',x0:r[0],x1:r[1],y0:159,y1:166.7,line:{color:'#555',width:0.7},fillcolor:'rgba(0,0,0,0)'}));
// ---- connectors ----
shapes.push({type:'circle',layer:'above',xref:'x5',yref:'y5',x0:570,x1:643,y0:11,y1:35,line:{color:'#b52424',width:1}});
path('M573,31 L48,70 L45,92','#b52424',1);
path('M41.7,83 L51,83 L42.6,100 Z','#b52424',0.5,'solid','#b52424');
seg(80,69,80,135,'#666',1);path('M80,135 L41,198','#222',0.9);
seg(188,69,188,133,'#333',1);path('M188,133 L702,199','#222',0.9);
// arcs of panel B, C
arc(57,75,251,243);arc(311,398,252,243);arc(435,442,237,228);arc(560,584,237,228);arc(411,676,298,319);
arc(411,678,438,402);
// DEL1 arrow
annotations.push({x:42,y:126,ax:21,ay:132,xref:'x5',yref:'y5',axref:'x5',ayref:'y5',text:'',showarrow:true,arrowhead:2,arrowsize:1.2,arrowwidth:1,arrowcolor:'#111'});
// ---- text ----
[['A',6,9],['B',6,200],['C',6,435],['D',6,489]].forEach(a=>label(a[0],a[1],a[2],14,{font:{family:F,size:14,color:'#111',weight:700}}));
label('Chr21',668,28,17);label('Chr17',668,105,17);
const bold=t=>({font:{family:F,size:10,color:'#111',weight:700}});
label('21q22.3',597,66,10,bold());
label('17p13.3',45,173,10,bold());label('17p13.2',85,173,10,bold());label('17p12',138,173,10,bold());label('17p11.2',177,173,10,bold());
label('DEL1',19,141,9.5);
label('DUP1(3X)',72,234,10);label('DEL2(1X)',359,236,10);label('TRP1(4X)',447,220,10);label('TRP2(4X)',580,219,10);label('DUP2(3X)',543,327,10);
label('Distal',65,363,17);label('Proximal',660,363,17);
label('DUP1(3X)',72,434,10);label('DEL2(1X)',359,446,10);label('TRP1(4X)',447,430,10);label('TRP2(4X)',580,429,10);label('DUP2(3X)',543,410,10);
label('Jct1',216,501,17);label('Jct2',480,501,17);label('Jct3',710,544,17);label('Jct4',23,569,17);
greyLabel('Jct5-putative',650,592,17);
label('Final product',67,662,16.5);
[135,181,300,406.5].forEach((x,i)=>label(junctionLabel[i],x,671,17));
greyLabel(junctionLabel[4],520,671,17);
strandAt.forEach((x,i)=>label(strandLabel[i],x,699,15));
[['1',36,14.7],['0',36,29.3],['-1',36,44.3],['2',37,79],['1',37,92],['0',37,107],['-1',37,121.7],['-2',37,135],['-3',37,146]].forEach(t=>label(t[0],t[1],t[2],4.5,{font:{family:F,size:4.5,color:'#777'}}));

const hidden={visible:false,fixedrange:true};
const yGrid=(dom,range,vals)=>({domain:dom,range,tickmode:'array',tickvals:vals,showgrid:true,gridcolor:GRID,griddash:'dot',gridwidth:0.8,zeroline:false,showticklabels:false,ticks:'',showline:false,fixedrange:true});
const layout={width:726,height:707,margin:{l:0,r:0,t:0,b:0,pad:0},paper_bgcolor:'#fff',plot_bgcolor:'rgba(0,0,0,0)',showlegend:false,
 xaxis:{...hidden,domain:[px(41),px(632)],range:[41,632],anchor:'y'},
 yaxis:yGrid([py(50),py(5)],[-20.7,24.3],[14.6,0,-15]),
 xaxis2:{...hidden,domain:[px(41),px(632)],range:[41,632],anchor:'y2'},
 yaxis2:yGrid([py(155),py(73)],[-48,34],[28,15,0,-14.7,-28,-38.7,-43.7]),
 xaxis3:{domain:[px(41),px(696)],range:[5.52,20.02],anchor:'free',position:py(380),tickmode:'array',tickvals:bTickVals,ticktext:bTickText,ticks:'outside',ticklen:5,tickcolor:'#555',tickwidth:0.8,showline:true,linecolor:'#888',linewidth:1,showgrid:false,zeroline:false,tickfont:{family:F,size:4.8,color:'#333'},fixedrange:true},
 yaxis3:yGrid([py(376),py(197)],[-90,89],bGrid),
 xaxis4:{...hidden,domain:[0,1],range:[4.615,20.687],anchor:'y4'},
 yaxis4:{...hidden,domain:[0,1],range:[707,0],anchor:'x4'},
 xaxis5:{...hidden,domain:[0,1],range:[0,726],anchor:'y5'},
 yaxis5:{...hidden,domain:[0,1],range:[707,0],anchor:'x5'},
 shapes,annotations};
Plotly.newPlot('g',traces,layout,{staticPlot:true,displayModeBar:false});
</script></body></html>
